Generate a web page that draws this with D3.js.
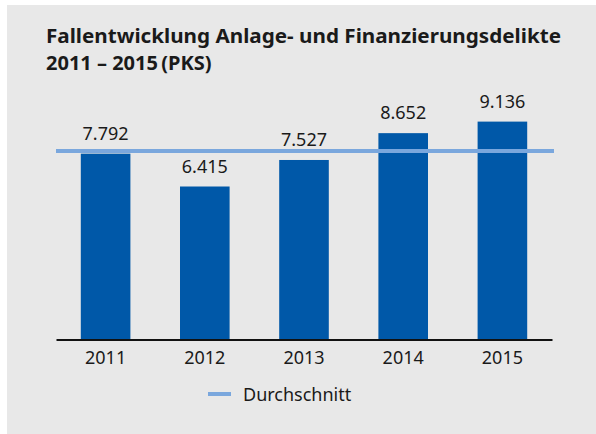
<!DOCTYPE html>
<html lang="de">
<head>
    <meta charset="UTF-8">
    <title>Fallentwicklung Anlage- und Finanzierungsdelikte</title>
    <script src="https://cdn.jsdelivr.net/npm/d3@7"></script>
    <style type="text/css">
        body { margin: 0; background: #fff; }
        text { font-family: "Noto Sans", sans-serif; fill: #1a1a1a; }
        .title { font-weight: bold; font-size: 20px; }
        .val, .tick text, .legend text { font-size: 18px; }
    </style>
</head>
<body>
<div id="vis"></div>
<script type="text/javascript">

    // data
    let years = ["2011", "2012", "2013", "2014", "2015"];
    let cases = [7792, 6415, 7527, 8652, 9136];
    let titleLines = ["Fallentwicklung Anlage- und Finanzierungsdelikte", "2011 \u2013 2015\u2009(PKS)"];
    let legendLabel = "Durchschnitt";

    let width = 596, height = 434;
    let margin = {top: 101, right: 44, bottom: 94.5, left: 56};

    let svg = d3.select("#vis").append("svg")
        .attr("width", width)
        .attr("height", height);

    // grey panel
    svg.append("rect")
        .attr("x", 7).attr("y", 5)
        .attr("width", width - 7).attr("height", height - 5)
        .attr("fill", "#e8e8e8");

    svg.selectAll("text.title")
        .data(titleLines)
        .enter().append("text")
        .attr("class", "title")
        .attr("x", 46)
        .attr("y", function(d, i) { return 43 + i * 27; })
        .text(function(d) { return d; });
    // stretch first line to the reference width
    svg.select("text.title")
        .attr("textLength", 515)
        .attr("lengthAdjust", "spacingAndGlyphs");

    let xScale = d3.scaleBand()
        .domain(years)
        .range([margin.left, width - margin.right])
        .paddingInner(0.5)
        .paddingOuter(0.25);

    let yScale = d3.scaleLinear()
        .domain([0, 10000])
        .range([height - margin.bottom, margin.top]);

    let rows = years.map(function(y, i) { return {year: y, value: cases[i]}; });
    let avg = d3.mean(cases);

    svg.selectAll("rect.bar")
        .data(rows)
        .enter().append("rect")
        .attr("class", "bar")
        .attr("x", function(d) { return xScale(d.year); })
        .attr("y", function(d) { return yScale(d.value); })
        .attr("width", xScale.bandwidth())
        .attr("height", function(d) { return yScale(0) - yScale(d.value); })
        .attr("fill", "#0058a8");

    svg.selectAll("text.val")
        .data(rows)
        .enter().append("text")
        .attr("class", "val")
        .attr("text-anchor", "middle")
        .attr("x", function(d) { return xScale(d.year) + xScale.bandwidth() / 2; })
        .attr("y", function(d) { return yScale(d.value) - 14; })
        .text(function(d) { return d3.format(",")(d.value).replace(/,/g, "."); });

    // average line
    svg.append("line")
        .attr("x1", margin.left).attr("x2", width - margin.right + 2)
        .attr("y1", yScale(avg)).attr("y2", yScale(avg))
        .attr("stroke", "#7aa7dd")
        .attr("stroke-width", 4);

    let xAxis = svg.append("g")
        .attr("transform", "translate(0," + yScale(0) + ")")
        .call(d3.axisBottom(xScale).tickSize(0).tickPadding(12));
    xAxis.select(".domain").attr("stroke", "#111").attr("stroke-width", 2);
    xAxis.selectAll(".tick text").attr("dy", "0.71em").attr("font-family", null).attr("font-size", null);

    let legend = svg.append("g").attr("class", "legend")
        .attr("transform", "translate(208,394)");
    legend.append("line")
        .attr("x1", 0).attr("x2", 23)
        .attr("stroke", "#7aa7dd").attr("stroke-width", 4);
    legend.append("text")
        .attr("x", 35).attr("y", 6.5)
        .text(legendLabel);
</script>
</body>
</html>
